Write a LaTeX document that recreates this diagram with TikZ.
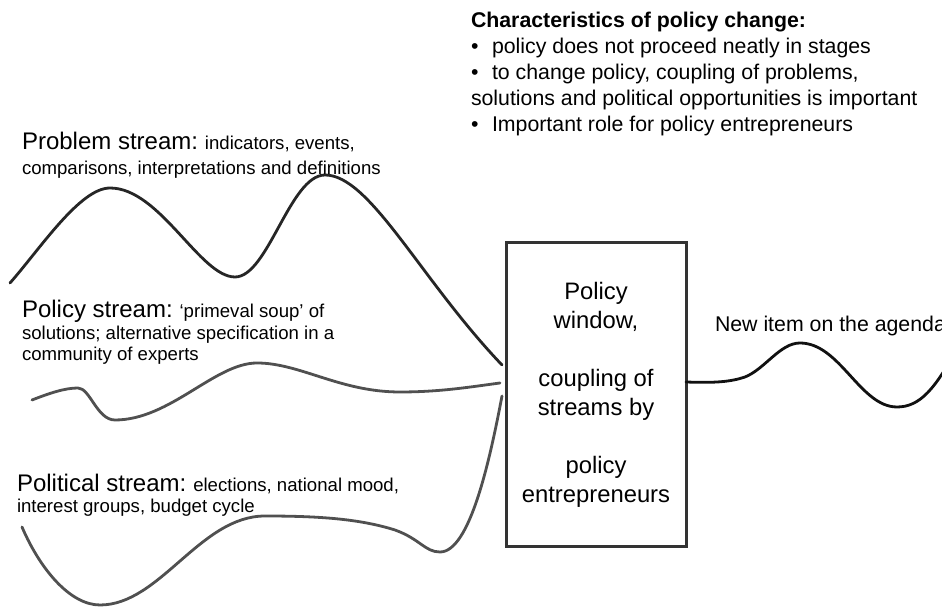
\documentclass[tikz,border=0pt]{standalone}
\usepackage{fontspec}
\setmainfont{Liberation Sans}
\usetikzlibrary{calc}
\definecolor{probcol}{HTML}{262626}
\definecolor{polcol}{HTML}{505050}
\definecolor{boxcol}{HTML}{333333}
\definecolor{newcol}{HTML}{111111}
\newcommand{\streamname}[1]{{\fontsize{24}{26}\selectfont #1}}
\tikzset{
  stream/.style={line width=2.8pt, line cap=round, line join=round},
  lbl/.style={inner sep=0pt, outer sep=0pt, anchor=base west, text=black},
  smalllbl/.style={lbl, font=\fontsize{18.6}{21}\selectfont},
  midlbl/.style={lbl, font=\fontsize{21.3}{26}\selectfont},
  winbox/.style={draw=boxcol, line width=3pt, minimum width=180pt, minimum height=304pt,
    inner sep=0pt, outer sep=0pt, align=center, font=\fontsize{23.8}{29}\selectfont},
}
\begin{document}
\begin{tikzpicture}[x=1pt,y=1pt]
\useasboundingbox (0,0) rectangle (942,609);
\begin{scope}
\clip (0,0) rectangle (942,609);
% policy window box
\node[winbox] (win) at (596,214) {Policy\\window,\\[29pt]coupling of\\streams by\\[29pt]policy\\entrepreneurs};
% end points of streams
\coordinate (probS) at (10,326);
\coordinate (probE) at ($(win.north west)+(-4,-122)$);
\coordinate (polS) at (32,209);
\coordinate (polE) at ($(win.north west)+(-6,-140)$);
\coordinate (politS) at (22,82);
\coordinate (politE) at ($(win.north west)+(-4,-153)$);
\coordinate (newS) at ($(win.north east)+(0,-139)$);
\coordinate (newE) at (958,262);
% problem stream
\draw[stream, probcol] (probS)
  .. controls (40,360) and (80,421) .. (110,421)
  .. controls (160,421) and (200,332) .. (235,332)
  .. controls (268,332) and (290,434) .. (325,434)
  .. controls (370,434) and (420,330) .. (probE);
% policy stream
\draw[stream, polcol] (polS)
  .. controls (50,216) and (65,221) .. (78,221)
  .. controls (90,221) and (97,189) .. (115,189)
  .. controls (170,189) and (215,246) .. (257,246)
  .. controls (300,246) and (340,217) .. (400,217)
  .. controls (440,217) and (470,222) .. (polE);
% political stream
\draw[stream, polcol] (politS)
  .. controls (40,40) and (70,4) .. (100,4)
  .. controls (160,4) and (200,93) .. (265,93)
  .. controls (320,93) and (360,90) .. (395,79)
  .. controls (420,70) and (425,57) .. (440,57)
  .. controls (470,57) and (490,150) .. (politE);
% new item on the agenda
\draw[stream, newcol] (newS)
  .. controls (715,226) and (730,227) .. (745,232)
  .. controls (765,240) and (780,266) .. (800,266)
  .. controls (840,266) and (860,202) .. (897,202)
  .. controls (920,202) and (935,220) .. (newE);
% labels
\node[midlbl] (chars) at (471,581) {\begin{tabular}[t]{@{}l@{}}\textbf{Characteristics of policy change:}\\
•\hspace{13.6pt}policy does not proceed neatly in stages\\
•\hspace{13.6pt}to change policy, coupling of problems,\\
solutions and political opportunities is important\\
•\hspace{13.6pt}Important role for policy entrepreneurs\end{tabular}};
\node[smalllbl] (problbl) at (22,459) {\begin{tabular}[t]{@{}l@{}}\streamname{Problem stream:} indicators, events,\\[4pt]
comparisons, interpretations and definitions\end{tabular}};
\node[smalllbl] (pollbl) at (22,291) {\begin{tabular}[t]{@{}l@{}}\streamname{Policy stream:} ‘primeval soup’ of\\[1pt]
solutions; alternative specification in a\\
community of experts\end{tabular}};
\node[smalllbl] (politlbl) at (17,117) {\begin{tabular}[t]{@{}l@{}}\streamname{Political stream:} elections, national mood,\\
interest groups, budget cycle\end{tabular}};
\node[midlbl] (newlbl) at (715,277) {New item on the agenda};
\end{scope}
\end{tikzpicture}
\end{document}
